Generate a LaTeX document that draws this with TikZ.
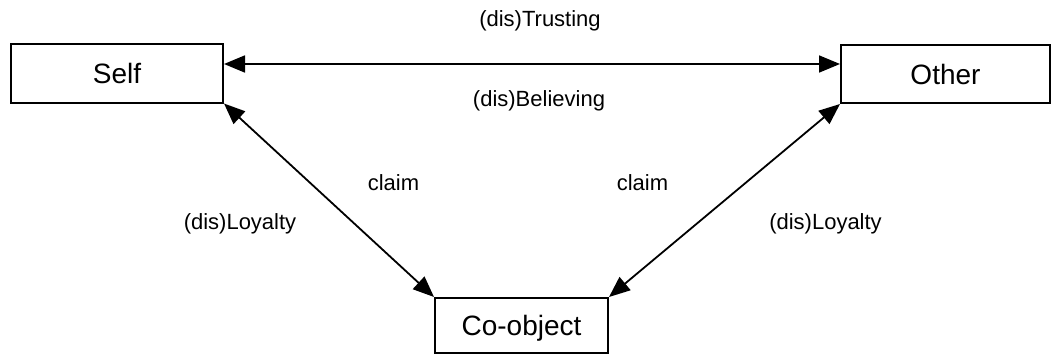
\documentclass[tikz,border=0pt]{standalone}
\usepackage{fontspec}
\setmainfont{Liberation Sans}
\usetikzlibrary{arrows.meta}
\begin{document}
\begin{tikzpicture}[x=1pt,y=1pt,
  box/.style={draw, line width=2pt, inner sep=0pt, font=\fontsize{28}{32}\selectfont, text height=20pt, text depth=0pt},
  lbl/.style={anchor=base, font=\fontsize{22}{26}\selectfont},
  arr/.style={line width=1.8pt, {Triangle[length=21pt,width=17pt]}-{Triangle[length=21pt,width=17pt]}}]
\useasboundingbox (0,0) rectangle (1052,357);
\node[box, minimum width=212pt, minimum height=58pt] (self) at (117,283.5) {Self};
\node[box, minimum width=209pt, minimum height=57.5pt] (other) at (945.5,282.75) {Other};
\node[box, minimum width=173pt, minimum height=55pt] (co) at (521.5,31.5) {Co-object};
\draw[arr] ([yshift=9.5pt]self.east) -- ([yshift=10.25pt]other.west);
\draw[arr] (self.south east) -- (co.north west);
\draw[arr] (other.south west) -- (co.north east);
\node[lbl] (trust) at (540,330) {(dis)Trusting};
\node[lbl] (believe) at (539,250.3) {(dis)Believing};
\node[lbl] (claimL) at (393.5,166.3) {claim};
\node[lbl] (claimR) at (642.5,166.3) {claim};
\node[lbl] (loyL) at (240,128) {(dis)Loyalty};
\node[lbl] (loyR) at (825.5,128) {(dis)Loyalty};
\end{tikzpicture}
\end{document}
